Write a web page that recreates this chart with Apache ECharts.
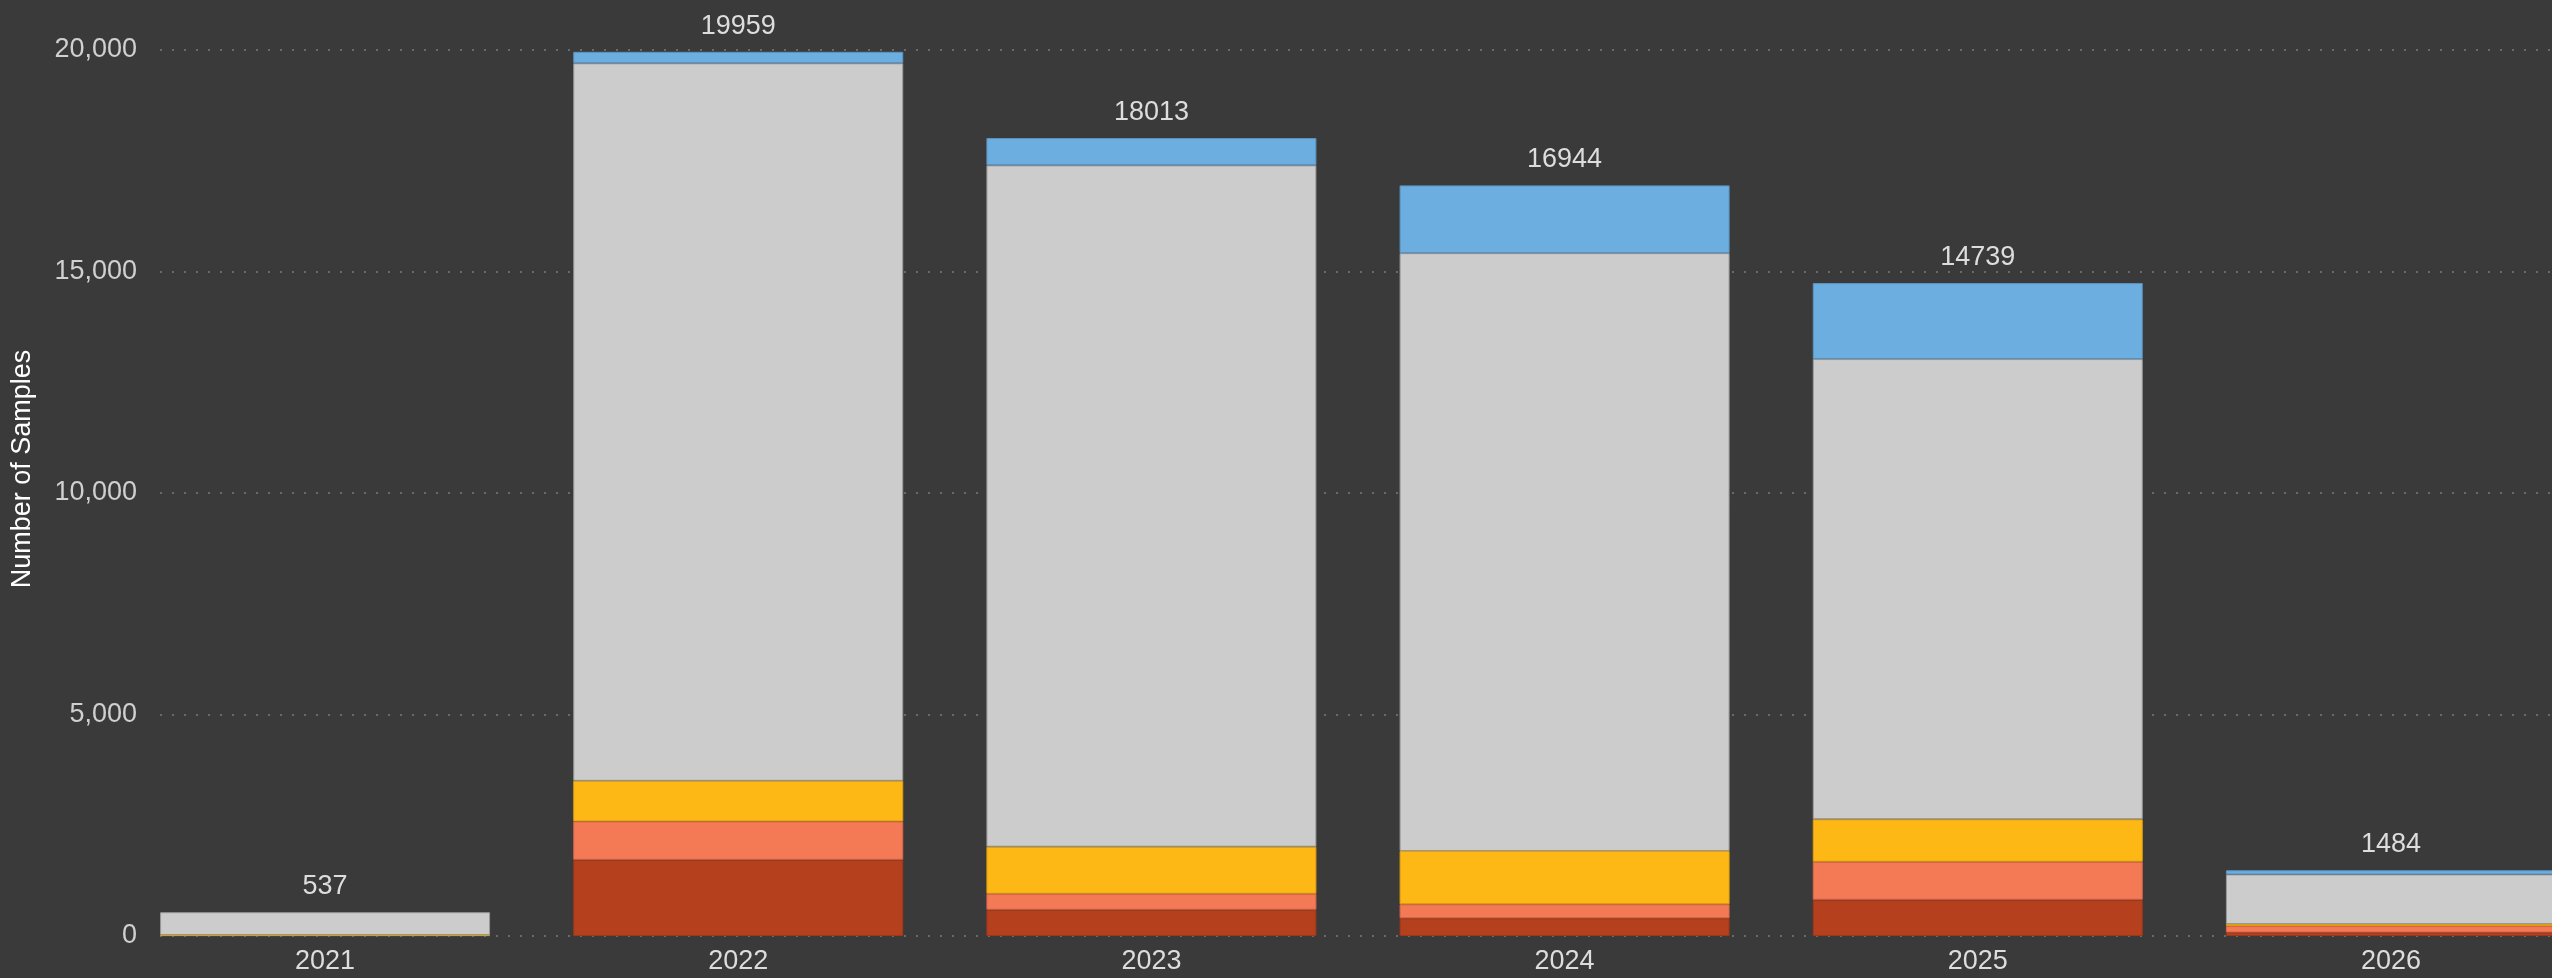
<!DOCTYPE html>
<html>
<head>
<meta charset="utf-8">
<script src="https://cdn.jsdelivr.net/npm/echarts@6/dist/echarts.min.js"></script>
<style>
  html, body { margin: 0; padding: 0; background: #3a3a3a; overflow: hidden; }
  /* chart is wider than the window: the last bar is cut off at the right edge */
  #chart { width: 2640px; height: 978px; }
</style>
</head>
<body>
<div id="chart"></div>
<script>
// categories and stacked values (bottom to top), null = no segment
const years = ['2021', '2022', '2023', '2024', '2025', '2026'];
const seriesRed = [null, 1721, 594, 400, 819, 80];
const seriesOrange = [null, 866, 361, 316, 858, 145];
const seriesYellow = [20, 916, 1061, 1203, 957, 45];
const seriesGray = [517, 16197, 15380, 13495, 10389, 1121];
const seriesBlue = [null, 259, 617, 1530, 1716, 93];
const totals = [537, 19959, 18013, 16944, 14739, 1484];
const yTicks = [0, 5000, 10000, 15000, 20000];

const colors = [
    { fill: '#b5401e', border: '#9e3719' },
    { fill: '#f47955', border: '#d9664a' },
    { fill: '#fdb815', border: '#e0a010' },
    { fill: '#cccccc', border: '#999999' },
    { fill: '#6daee0', border: '#5a93c0' },
];

const stackData = [seriesRed, seriesOrange, seriesYellow, seriesGray, seriesBlue];

function stackSeries(data, i) {
    return {
        type: 'bar',
        stack: 'samples',
        barWidth: 330,
        data: data,
        itemStyle: {
            color: colors[i].fill,
            borderColor: colors[i].border,
            borderWidth: 1
        },
        emphasis: { disabled: true }
    }
}

const series = stackData.map(stackSeries);

// zero-height bar on top of the stack that carries the total label
series.push({
    type: 'bar',
    stack: 'samples',
    barWidth: 330,
    data: totals.map(() => 0),
    itemStyle: { color: 'transparent' },
    label: {
        show: true,
        position: 'top',
        distance: 12,
        color: '#dddddd',
        fontSize: 27,
        fontFamily: 'Liberation Sans, Arial, sans-serif',
        formatter: (p) => String(totals[p.dataIndex])
    }
});

// empty spacer so each stack sits at the left of its band
series.push({
    type: 'bar',
    stack: 'spacer',
    barWidth: 83,
    barGap: '0%',
    data: years.map(() => null),
    silent: true
});

const option = {
    backgroundColor: '#3a3a3a',
    animation: false,
    grid: { left: 160, right: 1, top: 50, bottom: 42 },
    xAxis: {
        type: 'category',
        data: years,
        axisLine: { show: false },
        axisTick: { show: false },
        axisLabel: {
            color: '#dddddd',
            fontSize: 27,
            fontFamily: 'Liberation Sans, Arial, sans-serif',
            margin: 12,
            padding: [0, 83, 0, 0]
        }
    },
    yAxis: {
        type: 'value',
        min: yTicks[0],
        max: yTicks[yTicks.length - 1],
        interval: 5000,
        name: 'Number of Samples',
        nameLocation: 'middle',
        nameGap: 124,
        nameTextStyle: {
            color: '#ffffff',
            fontSize: 27,
            fontFamily: 'Liberation Sans, Arial, sans-serif',
            padding: [0, 0, 0, 48]
        },
        axisLine: { show: false },
        axisTick: { show: false },
        axisLabel: {
            color: '#d0d0d0',
            fontSize: 27,
            fontFamily: 'Liberation Sans, Arial, sans-serif',
            margin: 23,
            formatter: (v) => v.toLocaleString('en-US')
        },
        splitLine: {
            lineStyle: { color: '#6a6a6a', width: 2, type: [2, 10] }
        }
    },
    series: series
};

const myChart = echarts.init(document.getElementById('chart'));
myChart.setOption(option);
</script>
</body>
</html>
